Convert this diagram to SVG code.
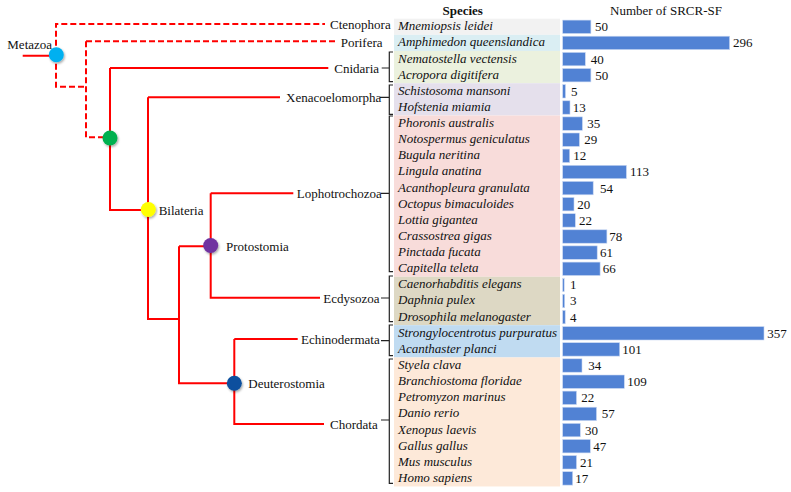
<svg xmlns="http://www.w3.org/2000/svg" width="791" height="492" viewBox="0 0 791 492">
<defs>
<filter id="sh" x="-50%" y="-50%" width="200%" height="200%"><feDropShadow dx="1" dy="1.5" stdDeviation="1" flood-color="#000" flood-opacity="0.35"/></filter>
</defs>
<style>
.t{font-family:"Liberation Serif","Times New Roman",serif;font-size:13px;fill:#111}
.sp{font-family:"Liberation Serif","Times New Roman",serif;font-size:13px;font-style:italic;fill:#111}
.h{font-family:"Liberation Serif","Times New Roman",serif;font-size:13px;fill:#111}
.ln{fill:none;stroke:#ff0000;stroke-width:2}
.dl{fill:none;stroke:#ff0000;stroke-width:2;stroke-dasharray:6 3}
.br{fill:none;stroke:#222;stroke-width:1.2}
.bar{fill:#5182d4;stroke:#c9d8f2;stroke-width:0.6}
</style>
<rect width="791" height="492" fill="#fff"/>
<g id="bands">
<rect x="394" y="18.7" width="166" height="16.13" fill="#f2f2f2"/>
<rect x="394" y="34.83" width="166" height="16.13" fill="#daeef3"/>
<rect x="394" y="50.96" width="166" height="32.26" fill="#ebf1de"/>
<rect x="394" y="83.22" width="166" height="32.26" fill="#e5e0ec"/>
<rect x="394" y="115.48" width="166" height="161.3" fill="#f8dcda"/>
<rect x="394" y="276.78" width="166" height="48.39" fill="#ddd8c4"/>
<rect x="394" y="325.17" width="166" height="32.26" fill="#c0dbf1"/>
<rect x="394" y="357.43" width="166" height="129.04" fill="#fde9d9"/>
</g>
<g id="headers">
<text class="h" x="462.7" y="15" text-anchor="middle" font-weight="bold">Species</text>
<text class="h" x="610" y="15">Number of SRCR-SF</text>
</g>
<g id="connectors">
<path class="dl" d="M56,54.7 V24 H325"/>
<path class="dl" d="M56,54.7 V86.7 H86"/>
<path class="dl" d="M86,41.3 V137.3 H110"/>
<path class="dl" d="M86,41.3 H338"/>
<path class="ln" d="M22.7,55.7 H56"/>
<path class="ln" d="M110,68 H328.3 M110,68 V210 H148"/>
<path class="ln" d="M148,97.3 H280 M148,97.3 V319 H179"/>
<path class="ln" d="M179,246.3 H210.7 M179,246.3 V383.3 H234.3"/>
<path class="ln" d="M210.7,193.3 H293.3 M210.7,193.3 V297.7 H320"/>
<path class="ln" d="M234.3,339 H297.7 M234.3,339 V424 H324"/>
<path class="br" d="M393,52 H389.3 V81.7 H393 M381.7,68 H389.3"/>
<path class="br" d="M393,85 H389.3 V114.3 H393 M380,97.3 H389.3"/>
<path class="br" d="M393,116 H389.3 V271.7 H393 M381,193.3 H389.3"/>
<path class="br" d="M393,276 H389.3 V321.7 H393 M381,298 H389.3"/>
<path class="br" d="M393,325 H389.3 V355.7 H393 M381,340.7 H389.3"/>
<path class="br" d="M393,359 H389.3 V483.3 H393 M381,420 H389.3"/>
</g>
<g id="node-metazoa"><circle cx="56.3" cy="54.7" r="7.5" fill="#00b0f0" filter="url(#sh)"/><text class="t" x="7.3" y="48.5">Metazoa</text></g>
<g id="node-eumetazoa"><circle cx="110" cy="138" r="7.5" fill="#00b050" filter="url(#sh)"/></g>
<g id="node-bilateria"><circle cx="148.3" cy="209.5" r="7.5" fill="#ffff00" filter="url(#sh)"/><text class="t" x="158.7" y="214.5">Bilateria</text></g>
<g id="node-protostomia"><circle cx="210.7" cy="245.5" r="7.5" fill="#7030a0" filter="url(#sh)"/><text class="t" x="226" y="250.5">Protostomia</text></g>
<g id="node-deuterostomia"><circle cx="234.3" cy="383.3" r="7.5" fill="#0b4f9e" filter="url(#sh)"/><text class="t" x="248.3" y="387.8">Deuterostomia</text></g>
<g id="clades">
<text class="t" x="330" y="28.5">Ctenophora</text>
<text class="t" x="340.7" y="47">Porifera</text>
<text class="t" x="334.3" y="72.5">Cnidaria</text>
<text class="t" x="286" y="101.8">Xenacoelomorpha</text>
<text class="t" x="296.7" y="197.8">Lophotrochozoa</text>
<text class="t" x="323.3" y="302.5">Ecdysozoa</text>
<text class="t" x="301" y="343.5">Echinodermata</text>
<text class="t" x="330" y="428.5">Chordata</text>
</g>
<g id="species">
<text class="sp" x="398" y="30.2">Mnemiopsis leidei</text>
<text class="sp" x="398" y="46.3">Amphimedon queenslandica</text>
<text class="sp" x="398" y="62.5">Nematostella vectensis</text>
<text class="sp" x="398" y="78.6">Acropora digitifera</text>
<text class="sp" x="398" y="94.7">Schistosoma mansoni</text>
<text class="sp" x="398" y="110.9">Hofstenia miamia</text>
<text class="sp" x="398" y="127">Phoronis australis</text>
<text class="sp" x="398" y="143.1">Notospermus geniculatus</text>
<text class="sp" x="398" y="159.2">Bugula neritina</text>
<text class="sp" x="398" y="175.4">Lingula anatina</text>
<text class="sp" x="398" y="191.5">Acanthopleura granulata</text>
<text class="sp" x="398" y="207.6">Octopus bimaculoides</text>
<text class="sp" x="398" y="223.8">Lottia gigantea</text>
<text class="sp" x="398" y="239.9">Crassostrea gigas</text>
<text class="sp" x="398" y="256">Pinctada fucata</text>
<text class="sp" x="398" y="272.2">Capitella teleta</text>
<text class="sp" x="398" y="288.3">Caenorhabditis elegans</text>
<text class="sp" x="398" y="304.4">Daphnia pulex</text>
<text class="sp" x="398" y="320.5">Drosophila melanogaster</text>
<text class="sp" x="398" y="336.7">Strongylocentrotus purpuratus</text>
<text class="sp" x="398" y="352.8">Acanthaster planci</text>
<text class="sp" x="398" y="368.9">Styela clava</text>
<text class="sp" x="398" y="385.1">Branchiostoma floridae</text>
<text class="sp" x="398" y="401.2">Petromyzon marinus</text>
<text class="sp" x="398" y="417.3">Danio rerio</text>
<text class="sp" x="398" y="433.5">Xenopus laevis</text>
<text class="sp" x="398" y="449.6">Gallus gallus</text>
<text class="sp" x="398" y="465.7">Mus musculus</text>
<text class="sp" x="398" y="481.8">Homo sapiens</text>
</g>
<g id="bars">
<rect class="bar" x="562.7" y="20.1" width="28.2" height="13.4"/>
<rect class="bar" x="562.7" y="36.2" width="166.9" height="13.4"/>
<rect class="bar" x="562.7" y="52.4" width="22.6" height="13.4"/>
<rect class="bar" x="562.7" y="68.5" width="28.2" height="13.4"/>
<rect class="bar" x="562.7" y="84.6" width="2.8" height="13.4"/>
<rect class="bar" x="562.7" y="100.8" width="7.3" height="13.4"/>
<rect class="bar" x="562.7" y="116.9" width="19.7" height="13.4"/>
<rect class="bar" x="562.7" y="133" width="16.7" height="13.4"/>
<rect class="bar" x="562.7" y="149.1" width="7" height="13.4"/>
<rect class="bar" x="562.7" y="165.3" width="63.7" height="13.4"/>
<rect class="bar" x="562.7" y="181.4" width="30.5" height="13.4"/>
<rect class="bar" x="562.7" y="197.5" width="11.3" height="13.4"/>
<rect class="bar" x="562.7" y="213.7" width="12.6" height="13.4"/>
<rect class="bar" x="562.7" y="229.8" width="44.2" height="13.4"/>
<rect class="bar" x="562.7" y="245.9" width="34.5" height="13.4"/>
<rect class="bar" x="562.7" y="262.1" width="37.4" height="13.4"/>
<rect class="bar" x="562.7" y="278.2" width="1.5" height="13.4"/>
<rect class="bar" x="562.7" y="294.3" width="2" height="13.4"/>
<rect class="bar" x="562.7" y="310.4" width="2.5" height="13.4"/>
<rect class="bar" x="562.7" y="326.6" width="201.3" height="13.4"/>
<rect class="bar" x="562.7" y="342.7" width="57" height="13.4"/>
<rect class="bar" x="562.7" y="358.8" width="19.3" height="13.4"/>
<rect class="bar" x="562.7" y="375" width="61.6" height="13.4"/>
<rect class="bar" x="562.7" y="391.1" width="13.8" height="13.4"/>
<rect class="bar" x="562.7" y="407.2" width="33.8" height="13.4"/>
<rect class="bar" x="562.7" y="423.4" width="17.6" height="13.4"/>
<rect class="bar" x="562.7" y="439.5" width="27.6" height="13.4"/>
<rect class="bar" x="562.7" y="455.6" width="13.8" height="13.4"/>
<rect class="bar" x="562.7" y="471.7" width="10" height="13.4"/>
</g>
<g id="values">
<text class="t" x="595" y="31.2">50</text>
<text class="t" x="733" y="47.3">296</text>
<text class="t" x="590.7" y="63.5">40</text>
<text class="t" x="595.3" y="79.6">50</text>
<text class="t" x="571" y="95.7">5</text>
<text class="t" x="572.7" y="111.9">13</text>
<text class="t" x="587.3" y="128">35</text>
<text class="t" x="584.3" y="144.1">29</text>
<text class="t" x="573.3" y="160.2">12</text>
<text class="t" x="630" y="176.4">113</text>
<text class="t" x="600" y="192.5">54</text>
<text class="t" x="577.3" y="208.6">20</text>
<text class="t" x="579" y="224.8">22</text>
<text class="t" x="609.3" y="240.9">78</text>
<text class="t" x="600" y="257">61</text>
<text class="t" x="602.7" y="273.2">66</text>
<text class="t" x="570" y="289.3">1</text>
<text class="t" x="570" y="305.4">3</text>
<text class="t" x="570" y="321.5">4</text>
<text class="t" x="767.3" y="337.7">357</text>
<text class="t" x="622.3" y="353.8">101</text>
<text class="t" x="588.3" y="369.9">34</text>
<text class="t" x="627.3" y="386.1">109</text>
<text class="t" x="581.3" y="402.2">22</text>
<text class="t" x="601.7" y="418.3">57</text>
<text class="t" x="585" y="434.5">30</text>
<text class="t" x="593.3" y="450.6">47</text>
<text class="t" x="580" y="466.7">21</text>
<text class="t" x="575.3" y="482.8">17</text>
</g>
</svg>
